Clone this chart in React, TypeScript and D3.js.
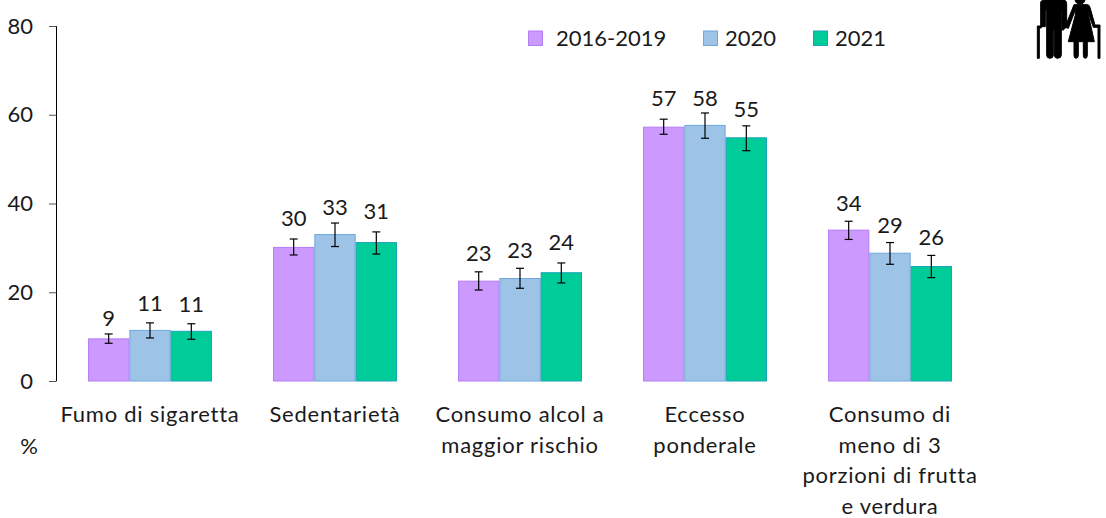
import React from "react";
import * as d3 from "d3";

const categories = [
  ["Fumo di sigaretta"],
  ["Sedentarietà"],
  ["Consumo alcol a", "maggior rischio"],
  ["Eccesso", "ponderale"],
  ["Consumo di", "meno di 3", "porzioni di frutta", "e verdura"],
];
const seriesNames = ["2016-2019", "2020", "2021"];
const colors = ["#CC99FF", "#9DC3E6", "#00CC99"];
const strokes = ["#B27FF5", "#6FA8DC", "#1AA3B8"];

const values2016 = [9.5, 30.1, 22.5, 57.2, 34];
const values2020 = [11.4, 33, 23.1, 57.6, 28.8];
const values2021 = [11.2, 31.2, 24.4, 54.8, 25.8];
const low2016 = [8.5, 28.4, 20.5, 55.6, 31.9];
const low2020 = [9.7, 30.3, 20.9, 54.7, 26.3];
const low2021 = [9.4, 28.6, 22.1, 51.9, 23.3];
const high2016 = [10.6, 32, 24.6, 59, 36];
const high2020 = [13.1, 35.6, 25.4, 60.4, 31.2];
const high2021 = [12.9, 33.6, 26.6, 57.5, 28.3];
const labels2016 = ["9", "30", "23", "57", "34"];
const labels2020 = ["11", "33", "23", "58", "29"];
const labels2021 = ["11", "31", "24", "55", "26"];
// height on the y scale where each data label sits
const labelAt2016 = [12.4, 34.9, 27, 62, 38.4];
const labelAt2020 = [15.8, 37.4, 27.7, 62, 33.4];
const labelAt2021 = [15.5, 36.5, 29.5, 59.6, 30.6];
const yTicks = [0, 20, 40, 60, 80];

const values = [values2016, values2020, values2021];
const lows = [low2016, low2020, low2021];
const highs = [high2016, high2020, high2021];
const labels = [labels2016, labels2020, labels2021];
const labelAt = [labelAt2016, labelAt2020, labelAt2021];

const FONT = "Lato, sans-serif";
const TEXT = "#1a1a1a";

const yScale = d3.scaleLinear().domain([0, 80]).range([381, 26]);
const xScale = d3
  .scaleBand<number>()
  .domain(d3.range(categories.length))
  .range([57.5, 982.5])
  .paddingInner(0.33)
  .paddingOuter(0.165);
const barScale = d3
  .scaleBand<number>()
  .domain(d3.range(seriesNames.length))
  .range([0, xScale.bandwidth()]);

function Icon() {
  return (
    <g transform="translate(1000,0) scale(0.3333)" fill="#000" stroke="#000" strokeWidth={3}>
      {/* man */}
      <path d="M122 8Q122 0 135 0H188Q200 0 200 10V80L190 90H186V30H184V165Q184 175 172 175Q164 175 163 165V90H160V165Q160 175 150 175Q140 175 140 165V30H136V80H122Z" />
      <path d="M112 78H124V84H118V175H112Z" />
      {/* woman */}
      <circle cx={240} cy={-2} r={15} />
      <path d="M222 14H262Q268 14 270 22L285 75H300V175H294V82H280L262 30L283 125H262V165Q262 175 256 175Q250 175 250 165V125H235V165Q235 175 228 175Q222 175 222 165V125H205L226 45V30L205 85L195 82Z" />
    </g>
  );
}

export default function App() {
  return (
    <svg
      width={1106}
      height={518}
      style={{ position: "absolute", left: 0, top: 0 }}
      fontFamily={FONT}
      fontSize={22}
      fill={TEXT}
    >
      {/* y axis */}
      <line x1={56.5} x2={56.5} y1={yScale(80)} y2={yScale(0)} stroke="#000" />
      {yTicks.map((t) => (
        <g key={t}>
          <line x1={49} x2={56.5} y1={yScale(t) + 0.5} y2={yScale(t) + 0.5} stroke="#555" />
          <text x={33} y={yScale(t) + 7.5} textAnchor="end">
            {t}
          </text>
        </g>
      ))}

      {/* bars */}
      {seriesNames.map((_, s) =>
        values[s].map((v, i) => {
          const x = xScale(i)! + barScale(s)!;
          const cx = x + barScale.bandwidth() / 2;
          return (
            <g key={`${s}-${i}`}>
              <rect
                x={x + 0.5}
                y={yScale(v)}
                width={barScale.bandwidth() - 1}
                height={yScale(0) - yScale(v)}
                fill={colors[s]}
                stroke={strokes[s]}
              />
              <line x1={cx} x2={cx} y1={yScale(highs[s][i])} y2={yScale(lows[s][i])} stroke="#000" strokeWidth={1.2} />
              <line x1={cx - 4} x2={cx + 4} y1={yScale(highs[s][i])} y2={yScale(highs[s][i])} stroke="#000" strokeWidth={1.2} />
              <line x1={cx - 4} x2={cx + 4} y1={yScale(lows[s][i])} y2={yScale(lows[s][i])} stroke="#000" strokeWidth={1.2} />
              <text x={cx} y={yScale(labelAt[s][i])} textAnchor="middle">
                {labels[s][i]}
              </text>
            </g>
          );
        })
      )}

      {/* category labels */}
      {categories.map((lines, i) =>
        lines.map((l, j) => (
          <text
            key={l}
            x={xScale(i)! + xScale.bandwidth() / 2}
            y={422 + j * 30.5}
            textAnchor="middle"
            letterSpacing={0.75}
          >
            {l}
          </text>
        ))
      )}
      <text x={29} y={454} textAnchor="middle">
        %
      </text>

      {/* legend */}
      {seriesNames.map((name, s) => {
        const lx = [528, 703, 813][s];
        const tx = [556, 725, 835][s];
        return (
          <g key={name}>
            <rect x={lx + 0.5} y={31} width={14} height={14.5} fill={colors[s]} stroke={strokes[s]} />
            <text x={tx} y={46}>
              {name}
            </text>
          </g>
        );
      })}

      <Icon />
    </svg>
  );
}
